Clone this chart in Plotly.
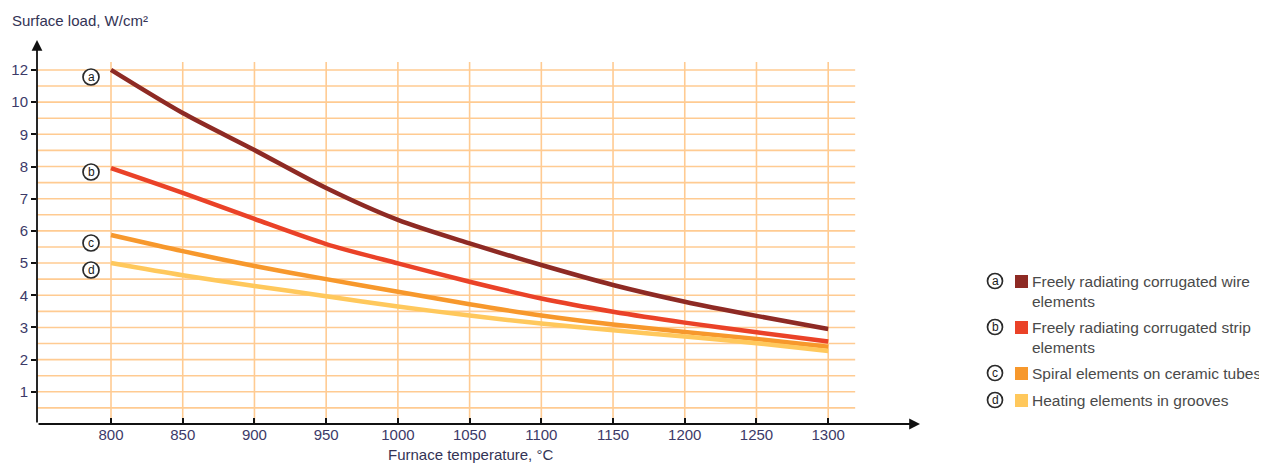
import plotly.graph_objects as go

# ---- data ----
temps = [800, 850, 900, 950, 1000, 1050, 1100, 1150, 1200, 1250, 1300]
wire_corrugated = [11.0, 9.66, 8.51, 7.33, 6.34, 5.61, 4.94, 4.32, 3.80, 3.36, 2.95]
strip_corrugated = [7.95, 7.18, 6.37, 5.59, 4.99, 4.42, 3.90, 3.49, 3.15, 2.85, 2.56]
spiral_ceramic = [5.87, 5.37, 4.91, 4.50, 4.11, 3.72, 3.37, 3.09, 2.86, 2.64, 2.40]
grooves = [5.00, 4.62, 4.29, 3.97, 3.65, 3.37, 3.12, 2.91, 2.72, 2.51, 2.27]

series_names = ["Freely radiating corrugated wire<br>elements",
                "Freely radiating corrugated strip<br>elements",
                "Spiral elements on ceramic tubes",
                "Heating elements in grooves"]
series_tags = ["a", "b", "c", "d"]
series_colors = ["#8e2a24", "#ea4228", "#f7982c", "#ffc85c"]

y_tickvals = [1, 2, 3, 4, 5, 6, 7, 8, 9, 10, 11]
y_ticktext = ["1", "2", "3", "4", "5", "6", "7", "8", "9", "10", "12"]
x_tickvals = [800, 850, 900, 950, 1000, 1050, 1100, 1150, 1200, 1250, 1300]

# ---- layout geometry (figure is placed at an 8px page margin) ----
OFF = 8
W, H = 1259, 455
L, R, T, B = 37 - OFF, 920 - OFF, 40 - OFF, 424 - OFF
x_range = [748.4, 1364.0]
y_range = [0, 11.93]
grid_col = "#ffcb92"
tick_col = "#3c3a68"
font_family = "Liberation Sans, Arial, Helvetica, sans-serif"

def px_to_paper_x(px):
    return (px - OFF - L) / (R - L)

def px_to_paper_y(py):
    return (B - (py - OFF)) / (B - T)

fig = go.Figure()
all_series = [wire_corrugated, strip_corrugated, spiral_ceramic, grooves]
for vals, name, col in zip(all_series, series_names, series_colors):
    fig.add_trace(go.Scatter(x=temps, y=vals, mode="lines", name=name,
                             line=dict(color=col, width=4.5, shape="spline", smoothing=0.8),
                             showlegend=False, hoverinfo="skip"))

shapes = []
# horizontal grid
hy = [i * 0.5 for i in range(1, 23)]
for yv in hy:
    shapes.append(dict(type="line", xref="x", yref="y", x0=x_range[0], x1=1318.8,
                       y0=yv, y1=yv, line=dict(color=grid_col, width=1.6), layer="below"))
# vertical grid
for xv in x_tickvals:
    shapes.append(dict(type="line", xref="x", yref="y", x0=xv, x1=xv, y0=0, y1=11.25,
                       line=dict(color=grid_col, width=1.6), layer="below"))

annotations = []
# axis arrows
annotations.append(dict(x=x_range[1], y=0, ax=x_range[0], ay=0, xref="x", yref="y",
                        axref="x", ayref="y", showarrow=True, arrowhead=2, arrowsize=1.2,
                        arrowwidth=1.8, arrowcolor="#111111", text=""))
annotations.append(dict(x=x_range[0], y=y_range[1], ax=x_range[0], ay=0, xref="x", yref="y",
                        axref="x", ayref="y", showarrow=True, arrowhead=2, arrowsize=1.2,
                        arrowwidth=1.8, arrowcolor="#111111", text=""))
# axis titles
annotations.append(dict(x=px_to_paper_x(10), y=px_to_paper_y(20), xref="paper", yref="paper",
                        xanchor="left", yanchor="middle", showarrow=False,
                        text="Surface load, W/cm²", font=dict(size=15, color="#333355", family=font_family)))
annotations.append(dict(x=px_to_paper_x(386), y=px_to_paper_y(454), xref="paper", yref="paper",
                        xanchor="left", yanchor="middle", showarrow=False,
                        text="Furnace temperature, °C", font=dict(size=15, color="#333355", family=font_family)))


def add_tag(xp, yp, letter, diameter):
    r = diameter / 2
    shapes.append(dict(type="circle", xref="paper", yref="paper", xsizemode="pixel", ysizemode="pixel",
                       xanchor=xp, yanchor=yp, x0=-r, x1=r, y0=-r, y1=r,
                       fillcolor="white", line=dict(color="#2a2a2a", width=1.7)))
    annotations.append(dict(x=xp, y=yp, xref="paper", yref="paper", showarrow=False, text=letter,
                            xanchor="center", yanchor="middle",
                            font=dict(size=12, color="#1a1a1a", family=font_family)))


# curve tags
tag_px_y = [77, 172, 243, 270]
for tag, ty in zip(series_tags, tag_px_y):
    add_tag(px_to_paper_x(91), px_to_paper_y(ty), tag, 16)

# legend (custom)
legend_rows = [281, 327, 373, 400]
for tag, name, col, ry in zip(series_tags, series_names, series_colors, legend_rows):
    add_tag(px_to_paper_x(995), px_to_paper_y(ry), tag, 15)
    shapes.append(dict(type="rect", xref="paper", yref="paper",
                       x0=px_to_paper_x(1015), x1=px_to_paper_x(1028),
                       y0=px_to_paper_y(ry + 7), y1=px_to_paper_y(ry - 6),
                       fillcolor=col, line=dict(width=0)))
    annotations.append(dict(x=px_to_paper_x(1030), y=px_to_paper_y(ry - 10.5), xref="paper", yref="paper",
                            showarrow=False, text=name, xanchor="left", yanchor="top", align="left",
                            font=dict(size=15.5, color="#4a4a4a", family=font_family)))

fig.update_layout(
    width=W, height=H,
    margin=dict(l=L, r=W - R, t=T, b=H - B, pad=0, autoexpand=False),
    plot_bgcolor="white", paper_bgcolor="white",
    shapes=shapes, annotations=annotations,
    xaxis=dict(range=x_range, tickvals=x_tickvals, ticks="inside", ticklen=6, tickwidth=1.5,
               tickcolor="#111111", showgrid=False, zeroline=False, showline=False, automargin=False,
               tickfont=dict(size=15, color=tick_col, family=font_family)),
    yaxis=dict(range=y_range, tickvals=y_tickvals, ticktext=y_ticktext, ticks="outside",
               ticklen=5, tickwidth=1.5, tickcolor="#111111", showgrid=False, zeroline=False,
               showline=False, automargin=False,
               tickfont=dict(size=15, color=tick_col, family=font_family)),
)

fig.write_html("out.html")
